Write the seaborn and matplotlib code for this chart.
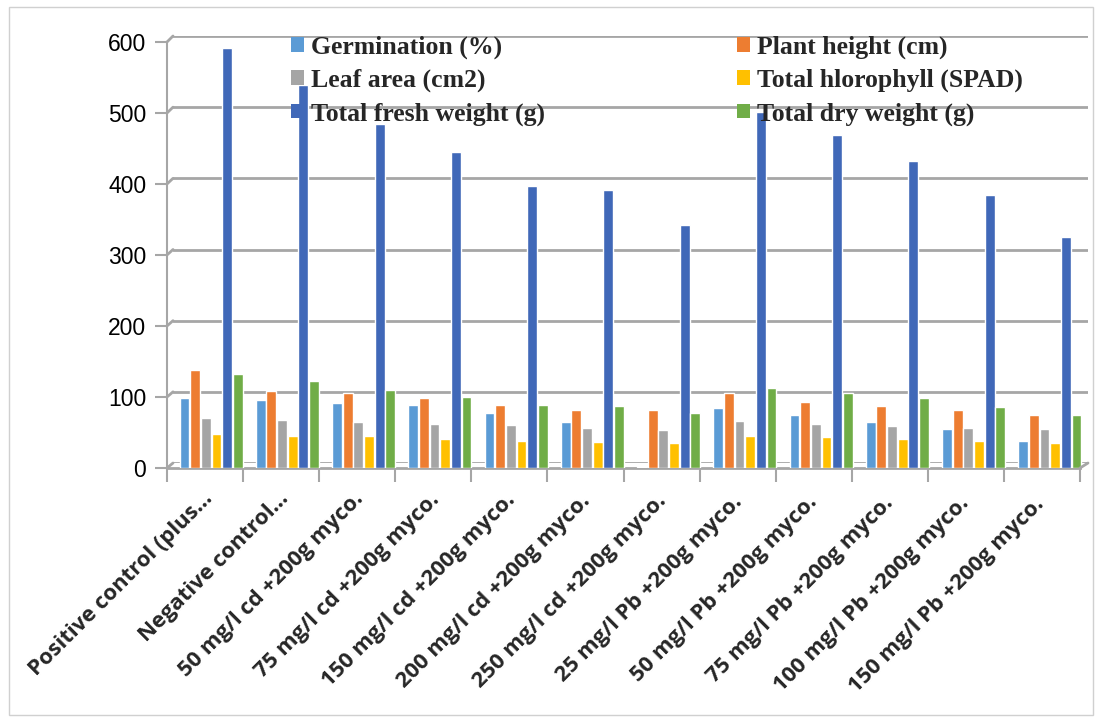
import matplotlib
matplotlib.use("Agg")
import matplotlib.pyplot as plt
import matplotlib.transforms as mtransforms
from matplotlib.patches import Rectangle, Patch
from matplotlib.lines import Line2D
import seaborn as sns
import pandas as pd
import numpy as np

categories = [
    "Positive control (plus...", "Negative control...",
    "50 mg/l cd +200g myco.", "75 mg/l cd +200g myco.",
    "150 mg/l cd +200g myco.", "200 mg/l cd +200g myco.",
    "250 mg/l cd +200g myco.", "25 mg/l Pb +200g myco.",
    "50 mg/l Pb +200g myco.", "75 mg/l Pb +200g myco.",
    "100 mg/l Pb +200g myco.", "150 mg/l Pb +200g myco.",
]
series_names = ["Germination (%)", "Plant height (cm)", "Leaf area (cm2)",
                "Total hlorophyll (SPAD)", "Total fresh weight (g)", "Total dry weight (g)"]
germination = [99, 96, 92, 89, 77, 65, 1, 84, 74, 65, 55, 38]
plant_height = [138, 109, 106, 98, 89, 82, 81, 106, 93, 88, 81, 74]
leaf_area = [71, 67, 65, 62, 60, 57, 54, 66, 62, 59, 57, 55]
chlorophyll = [48, 45, 45, 41, 38, 36, 35, 45, 44, 41, 38, 35]
fresh_weight = [592, 540, 484, 445, 397, 391, 342, 501, 469, 432, 384, 326]
dry_weight = [133, 123, 110, 100, 89, 88, 78, 113, 106, 98, 86, 74]
colors = ["#5B9BD5", "#ED7D31", "#A5A5A5", "#FFC000", "#4068B8", "#70AD47"]
yticks = [0, 100, 200, 300, 400, 500, 600]

values = [germination, plant_height, leaf_area, chlorophyll, fresh_weight, dry_weight]
rows = []
for name, vals in zip(series_names, values):
    for c, v in zip(categories, vals):
        rows.append({"cat": c, "series": name, "value": v})
df = pd.DataFrame(rows)

sns.set_style("white")
plt.rcParams["font.family"] = ["Liberation Sans", "DejaVu Sans"]

W, H = 1100, 722
GRID = "#A6A6A6"
fig = plt.figure(figsize=(11, 7.22), dpi=100)


def rect(x0, x1, y_bottom, y_top):
    return [x0 / W, 1 - y_bottom / H, (x1 - x0) / W, (y_bottom - y_top) / H]


n = len(categories)

# back wall with gridlines
gx = fig.add_axes(rect(173, 1088, 463, 36))
gx.set_ylim(0, 600)
gx.set_xlim(-0.5, n - 0.5)
gx.set_yticks(yticks)
gx.set_xticks([])
gx.tick_params(axis="y", left=False, labelleft=False)
gx.yaxis.grid(True, color=GRID, linewidth=2)
for s in gx.spines.values():
    s.set_visible(False)
gx.patch.set_visible(False)

# bars
ax = fig.add_axes(rect(173, 1088, 468, 42))
ax.patch.set_visible(False)
sns.barplot(data=df, x="cat", y="value", hue="series", order=categories,
            hue_order=series_names, palette=colors, width=0.84, gap=0.08,
            saturation=1, ax=ax, legend=False)
ax.set_ylim(0, 600)
ax.set_xlim(-0.5, n - 0.5)
ax.set_xticks([])
ax.set_yticks([])
ax.set_xlabel("")
ax.set_ylabel("")
for s in ax.spines.values():
    s.set_visible(False)

# front axes: value axis + category axis
fx = fig.add_axes(rect(167, 1080, 468, 42))
fx.patch.set_visible(False)
fx.set_zorder(-1)
fx.set_ylim(0, 600)
fx.set_xlim(-0.5, n - 0.5)
fx.set_yticks(yticks)
fx.set_yticklabels([str(t) for t in yticks], fontsize=16.5, color="#000000")
for s in ["top", "right"]:
    fx.spines[s].set_visible(False)
fx.spines["left"].set_color(GRID)
fx.spines["left"].set_linewidth(1.5)
fx.spines["bottom"].set_color(GRID)
fx.spines["bottom"].set_linewidth(2)
fx.tick_params(axis="y", left=True, length=9, width=1.5, color=GRID, pad=6)
fx.set_xticks(np.arange(n + 1) - 0.5, minor=True)
fx.tick_params(axis="x", which="minor", bottom=True, length=10, width=1.5, color=GRID)
fx.tick_params(axis="x", which="major", bottom=False, pad=2)
fx.set_xticks(np.arange(n))
fx.set_xticklabels(categories, rotation=45, ha="right", rotation_mode="anchor",
                   fontsize=15.8, fontweight="bold", family=["Open Sans", "DejaVu Sans"])
for i, lab in enumerate(fx.get_xticklabels()):
    t = i / (n - 1)
    dx = -3 - 5 * t
    dy = -(12 + 6 * t)
    lab.set_transform(lab.get_transform() +
                      mtransforms.ScaledTranslation(dx / 100, dy / 100, fig.dpi_scale_trans))

# left wall / floor connectors of the 3D frame
for t in yticks:
    yf = 468 - (468 - 42) * t / 600
    yb = 463 - (463 - 36) * t / 600
    fig.add_artist(Line2D([167 / W, 173 / W], [1 - yf / H, 1 - yb / H],
                          color=GRID, linewidth=2, transform=fig.transFigure))
fig.add_artist(Line2D([1080 / W, 1088 / W], [1 - 468 / H, 1 - 463 / H],
                      color=GRID, linewidth=2, transform=fig.transFigure))

handles = [Patch(facecolor=c, edgecolor="none") for c in colors]
order = [0, 2, 4, 1, 3, 5]
leg = ax.legend([handles[i] for i in order], [series_names[i] for i in order],
                ncol=2, loc="upper left", bbox_to_anchor=(0.1035, 1.069),
                frameon=False, handlelength=0.5, handleheight=0.5, handletextpad=0.3,
                columnspacing=7.45, labelspacing=0.38,
                prop={"family": "Liberation Serif", "weight": "bold", "size": 18.5})

fig.patches.append(Rectangle((0.008, 0.01), 0.986, 0.98, transform=fig.transFigure,
                             fill=False, edgecolor="#D0D0D0", linewidth=1))

fig.savefig("out.png", dpi=100)
